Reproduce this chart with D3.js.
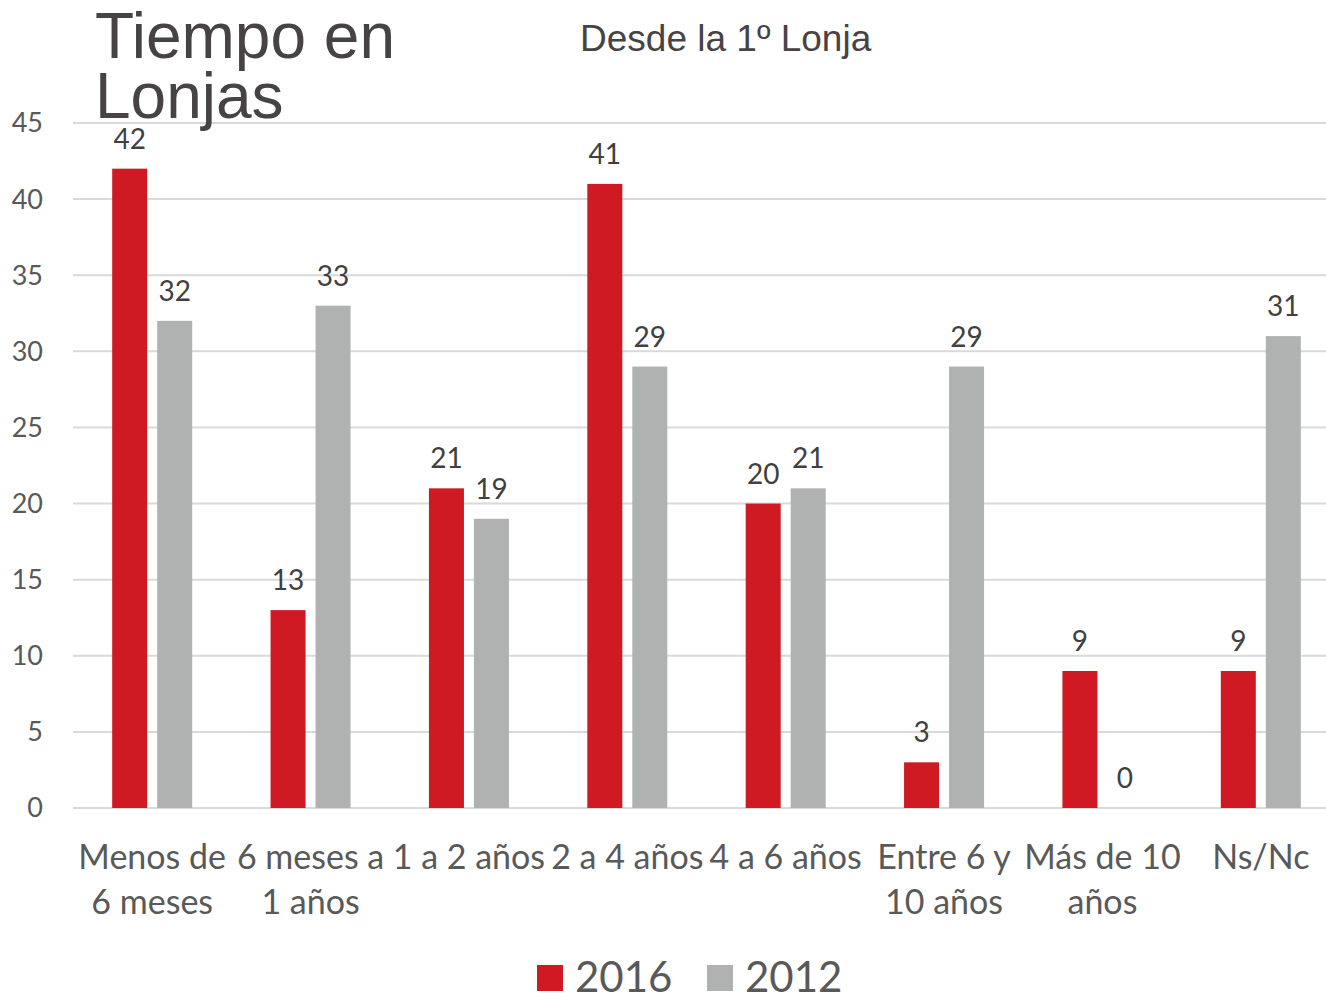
<!DOCTYPE html>
<html>
<head>
<meta charset="utf-8">
<script src="https://d3js.org/d3.v7.min.js"></script>
<style>
  body { margin: 0; background: #fff; }
  svg { display: block; }
</style>
</head>
<body>
<div id="chart"></div>
<script>
// Data
const categories = [
  ["Menos de", "6 meses"],
  ["6 meses a", "1 años"],
  ["1 a 2 años"],
  ["2 a 4 años"],
  ["4 a 6 años"],
  ["Entre 6 y", "10 años"],
  ["Más de 10", "años"],
  ["Ns/Nc"]
];
const series = ["2016", "2012"];
const values2016 = [42, 13, 21, 41, 20, 3, 9, 9];
const values2012 = [32, 33, 19, 29, 21, 29, 0, 31];
const yTicks = [0, 5, 10, 15, 20, 25, 30, 35, 40, 45];

const width = 1326, height = 993;
const colors = { "2016": "#cf1a23", "2012": "#b0b1b1" };
const labelFont = "Lato, 'Open Sans', sans-serif";

const svg = d3.select("#chart").append("svg")
  .attr("width", width)
  .attr("height", height);

const x = d3.scaleBand()
  .domain(d3.range(categories.length))
  .range([73, 1340]);

const y = d3.scaleLinear()
  .domain([0, 45])
  .range([808, 123]);

const barW = 35, barGap = 10;
const inner = d3.scaleOrdinal()
  .domain(series)
  .range([(x.bandwidth() - 2 * barW - barGap) / 2, (x.bandwidth() - 2 * barW - barGap) / 2 + barW + barGap]);

// gridlines
svg.append("g")
  .selectAll("line")
  .data(yTicks)
  .join("line")
  .attr("x1", 73)
  .attr("x2", width)
  .attr("y1", d => y(d))
  .attr("y2", d => y(d))
  .attr("stroke", "#d9d9d9")
  .attr("stroke-width", 2);

// y tick labels
svg.append("g")
  .selectAll("text")
  .data(yTicks)
  .join("text")
  .attr("x", 43)
  .attr("y", d => y(d))
  .attr("dy", "0.35em")
  .attr("text-anchor", "end")
  .style("font-family", labelFont)
  .style("font-size", "27px")
  .style("fill", "#595959")
  .text(d => d);

// bars
const rows = [];
categories.forEach((c, i) => {
  rows.push({ i, s: "2016", v: values2016[i] });
  rows.push({ i, s: "2012", v: values2012[i] });
});

svg.append("g")
  .selectAll("rect")
  .data(rows)
  .join("rect")
  .attr("x", d => x(d.i) + inner(d.s))
  .attr("y", d => y(d.v))
  .attr("width", barW)
  .attr("height", d => y(0) - y(d.v))
  .attr("fill", d => colors[d.s]);

// data labels
svg.append("g")
  .selectAll("text")
  .data(rows)
  .join("text")
  .attr("x", d => x(d.i) + inner(d.s) + barW / 2)
  .attr("y", d => y(d.v) - 20)
  .attr("text-anchor", "middle")
  .style("font-family", labelFont)
  .style("font-size", "28px")
  .style("fill", "#404040")
  .text(d => d.v);

// x category labels
const xl = svg.append("g")
  .selectAll("text")
  .data(categories)
  .join("text")
  .attr("text-anchor", "middle")
  .style("font-family", labelFont)
  .style("font-size", "34px")
  .style("fill", "#595959");

xl.selectAll("tspan")
  .data((d, i) => d.map((t, j) => ({ t, j, i })))
  .join("tspan")
  .attr("x", d => x(d.i) + x.bandwidth() / 2)
  .attr("y", d => 869 + d.j * 45)
  .text(d => d.t);

// titles
const title = svg.append("text")
  .attr("x", 95)
  .style("font-family", "'Liberation Sans', Arial, sans-serif")
  .style("font-size", "64px")
  .style("fill", "#474344");
title.append("tspan").attr("x", 95).attr("y", 58).text("Tiempo en");
title.append("tspan").attr("x", 95).attr("y", 118).text("Lonjas");

svg.append("text")
  .attr("x", 580)
  .attr("y", 51)
  .style("font-family", "'Liberation Sans', Arial, sans-serif")
  .style("font-size", "37px")
  .style("fill", "#474344")
  .text("Desde la 1º Lonja");

// legend
const legend = svg.append("g")
  .selectAll("g")
  .data(series)
  .join("g")
  .attr("transform", (d, i) => `translate(${537 + i * 170},965)`);

legend.append("rect")
  .attr("width", 26)
  .attr("height", 26)
  .attr("fill", d => colors[d]);

legend.append("text")
  .attr("x", 38)
  .attr("y", 27)
  .style("font-family", labelFont)
  .style("font-size", "42px")
  .style("fill", "#595959")
  .text(d => d);
</script>
</body>
</html>
